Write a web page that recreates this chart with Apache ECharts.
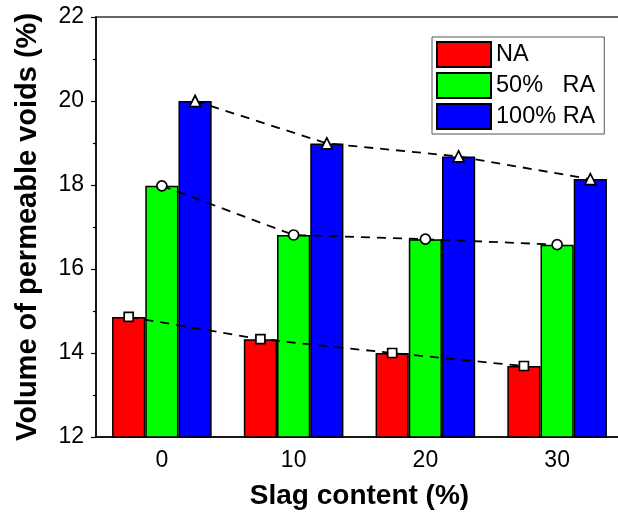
<!DOCTYPE html>
<html>
<head>
<meta charset="utf-8">
<script src="https://cdn.jsdelivr.net/npm/echarts@6/dist/echarts.min.js"></script>
<style>
html,body{margin:0;padding:0;background:#fff;}
#chart{width:618px;height:514px;}
</style>
</head>
<body>
<div id="chart"></div>
<script>
const categories = ['0', '10', '20', '30'];
const slagValues = [0, 10, 20, 30];
const seriesNames = ['NA', '50%   RA', '100% RA'];
const naValues = [14.86, 14.33, 14.0, 13.69];
const ra50Values = [17.98, 16.81, 16.71, 16.58];
const ra100Values = [20.0, 18.99, 18.68, 18.14];

const colors = ['#ff0000', '#00ff00', '#0000ff'];
const symbols = ['rect', 'circle', 'triangle'];
const symbolSizes = [9, 10, 11];
const allValues = [naValues, ra50Values, ra100Values];

const catGap = 0.244;
const step = slagValues[1] - slagValues[0];
const barUnits = step * (1 - catGap) / 3;

const font = 'Liberation Sans, Arial, sans-serif';

const series = [];
allValues.forEach((vals, s) => {
  series.push({
    name: seriesNames[s],
    type: 'bar',
    xAxisIndex: 0,
    yAxisIndex: 0,
    data: vals,
    barGap: '0%',
    barCategoryGap: (catGap * 100) + '%',
    itemStyle: { color: colors[s], borderColor: '#000', borderWidth: 1.5 },
    z: 2
  });
});
allValues.forEach((vals, s) => {
  series.push({
    name: 'trend' + s,
    type: 'line',
    xAxisIndex: 1,
    yAxisIndex: 0,
    data: vals.map((v, i) => [slagValues[i] + (s - 1) * barUnits, v]),
    symbol: symbols[s],
    symbolSize: symbolSizes[s],
    showAllSymbol: true,
    lineStyle: { color: '#000', width: 1.8, type: [9, 7] },
    itemStyle: { color: '#fff', borderColor: '#000', borderWidth: 1.7 },
    z: 5,
    silent: true,
    animation: false
  });
});

const chart = echarts.init(document.getElementById('chart'), null, { renderer: 'canvas' });
chart.setOption({
  animation: false,
  backgroundColor: '#fff',
  grid: {
    left: 96, top: 17, width: 527, height: 420,
    outerBoundsMode: 'none',
    containLabel: false,
    show: true, borderColor: '#333', borderWidth: 1.5, backgroundColor: 'transparent'
  },
  legend: {
    data: seriesNames,
    orient: 'vertical',
    left: 432, top: 37,
    icon: 'rect',
    itemWidth: 54, itemHeight: 25, itemGap: 4,
    padding: [4, 9, 4, 4],
    borderColor: '#555', borderWidth: 1,
    textStyle: { fontFamily: font, fontSize: 23.5, color: '#000' },
    itemStyle: { borderColor: '#000', borderWidth: 2 }
  },
  xAxis: [{
    type: 'category',
    data: categories,
    name: 'Slag content (%)',
    nameLocation: 'middle',
    nameGap: 45,
    nameTextStyle: { fontFamily: font, fontSize: 28, fontWeight: 'bold', color: '#000' },
    axisLine: { lineStyle: { color: '#000', width: 1.5 } },
    axisTick: { alignWithLabel: true, length: 5, lineStyle: { color: '#000', width: 1.2 } },
    axisLabel: { fontFamily: font, fontSize: 23, color: '#000', margin: 12 },
    splitLine: { show: false }
  }, {
    type: 'value',
    min: -5, max: 35,
    show: false
  }],
  yAxis: {
    type: 'value',
    min: 12, max: 22, interval: 2,
    name: 'Volume of permeable voids (%)',
    nameLocation: 'middle',
    nameRotate: 90,
    nameGap: 54,
    nameTextStyle: { fontFamily: font, fontSize: 29, fontWeight: 'bold', color: '#000' },
    axisLine: { show: true, onZero: false, lineStyle: { color: '#000', width: 1.5 } },
    axisTick: { show: true, length: 5, lineStyle: { color: '#000', width: 1.2 } },
    minorTick: { show: true, splitNumber: 2, length: 3, lineStyle: { color: '#000', width: 1.2 } },
    axisLabel: { fontFamily: font, fontSize: 23, color: '#000', margin: 12 },
    splitLine: { show: false }
  },
  series: series
});
</script>
</body>
</html>
